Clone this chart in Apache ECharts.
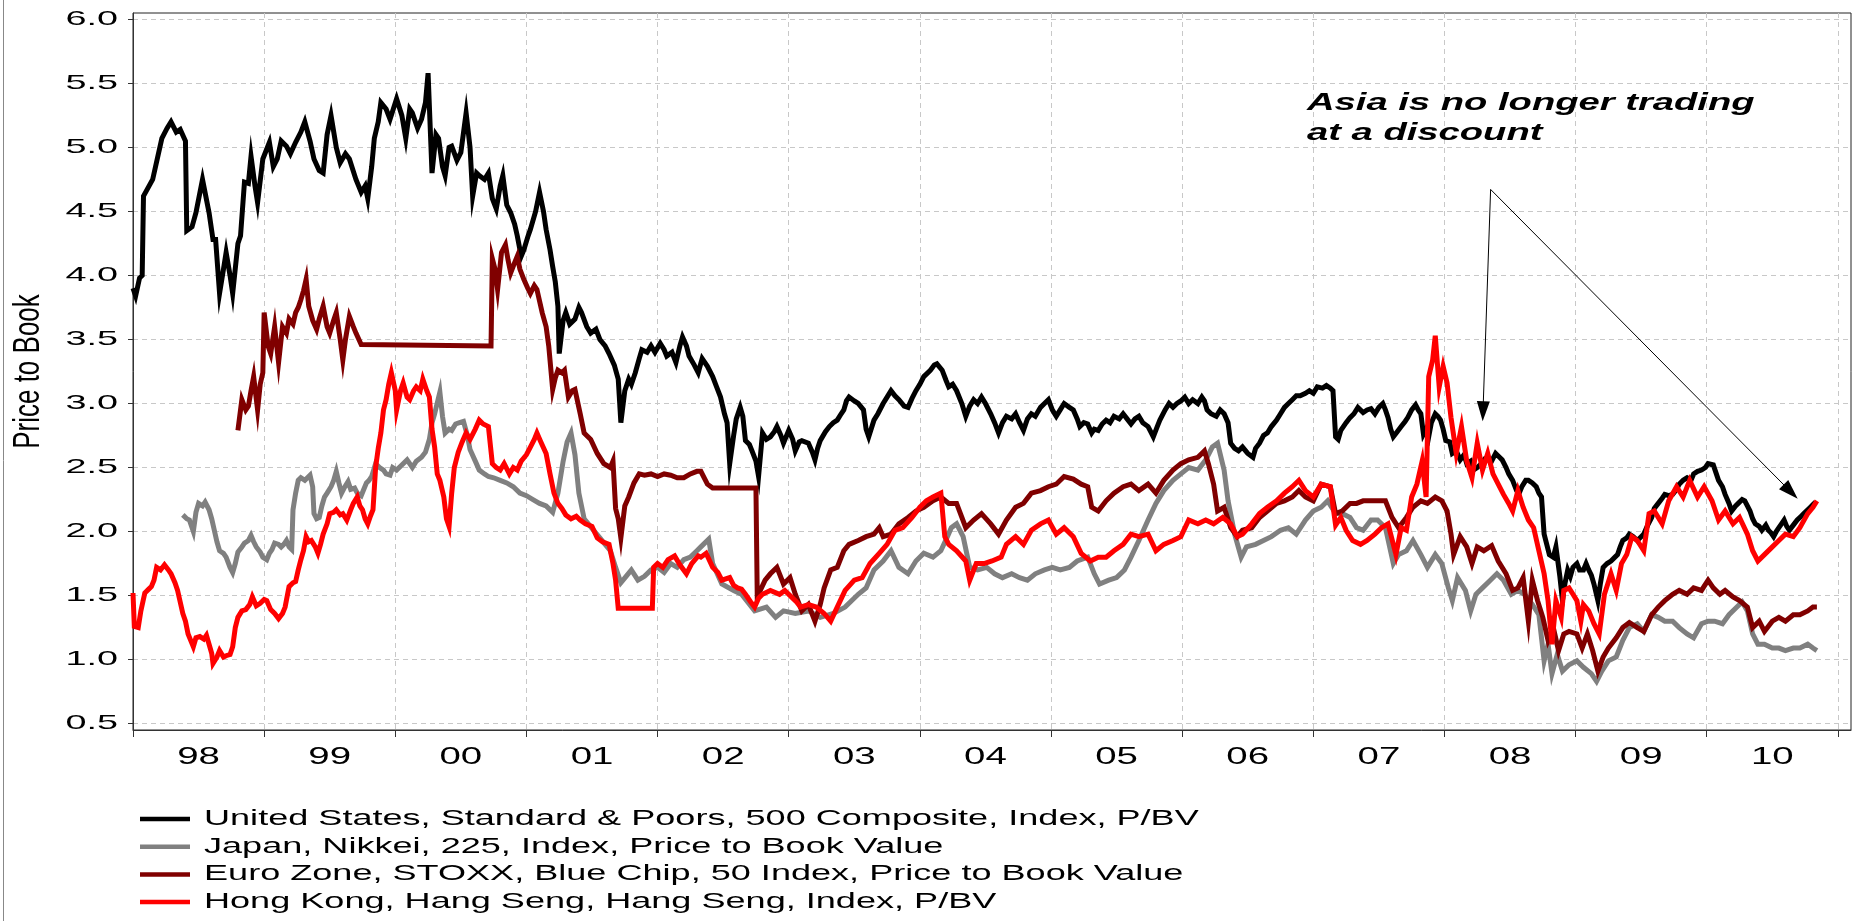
<!DOCTYPE html>
<html><head><meta charset="utf-8">
<script src="https://cdn.jsdelivr.net/npm/echarts@6/dist/echarts.min.js"></script>
<style>html,body{margin:0;padding:0;background:#fff}#c{width:1857px;height:921px}</style>
</head><body><div id="c"></div>
<script>
// ---------------- DATA ----------------
const seriesNames = [
  'United States, Standard & Poors, 500 Composite, Index, P/BV',
  'Japan, Nikkei, 225, Index, Price to Book Value',
  'Euro Zone, STOXX, Blue Chip, 50 Index, Price to Book Value',
  'Hong Kong, Hang Seng, Hang Seng, Index, P/BV'
];
const seriesColors = ['#000000', '#808080', '#800000', '#ff0000'];

const usT = [1998.00,1998.02,1998.05,1998.07,1998.08,1998.15,1998.22,1998.26,1998.29,1998.33,1998.36,1998.40,1998.41,1998.45,1998.48,1998.53,1998.58,1998.61,1998.63,1998.66,1998.69,1998.71,1998.74,1998.76,1998.80,1998.82,1998.85,1998.88,1998.90,1998.93,1998.95,1998.99,
1999.04,1999.07,1999.10,1999.13,1999.17,1999.20,1999.24,1999.28,1999.31,1999.35,1999.38,1999.42,1999.45,1999.48,1999.51,1999.55,1999.58,1999.62,1999.65,1999.70,1999.74,1999.77,1999.79,1999.82,1999.84,1999.87,1999.89,1999.93,1999.96,
2000.01,2000.05,2000.08,2000.11,2000.13,2000.17,2000.20,2000.23,2000.25,2000.28,2000.31,2000.33,2000.36,2000.38,2000.41,2000.43,2000.47,2000.50,2000.54,2000.57,2000.59,2000.62,2000.64,2000.68,2000.71,2000.74,2000.77,2000.80,2000.82,2000.85,2000.88,2000.91,2000.93,2000.96,2000.98,
2001.01,2001.03,2001.07,2001.10,2001.13,2001.15,2001.18,2001.20,2001.22,2001.24,2001.25,2001.28,2001.30,2001.33,2001.37,2001.40,2001.42,2001.46,2001.49,2001.53,2001.56,2001.60,2001.63,2001.67,2001.70,2001.72,2001.75,2001.78,2001.80,2001.83,2001.86,2001.88,2001.92,2001.95,2001.98,
2002.02,2002.05,2002.07,2002.11,2002.14,2002.17,2002.19,2002.22,2002.24,2002.28,2002.31,2002.34,2002.38,2002.42,2002.45,2002.48,2002.51,2002.53,2002.55,2002.58,2002.60,2002.63,2002.65,2002.67,2002.70,2002.72,2002.75,2002.77,2002.80,2002.83,2002.86,2002.89,2002.91,2002.94,2002.96,
2003.00,2003.03,2003.05,2003.08,2003.10,2003.15,2003.18,2003.20,2003.22,2003.24,2003.28,2003.31,2003.34,2003.37,2003.40,2003.42,2003.44,2003.46,2003.50,2003.53,2003.57,2003.59,2003.61,2003.65,2003.68,2003.72,2003.75,2003.78,2003.81,2003.84,2003.88,2003.91,2003.94,2003.97,
2004.00,2004.03,2004.08,2004.11,2004.13,2004.17,2004.20,2004.22,2004.25,2004.28,2004.32,2004.35,2004.38,2004.41,2004.44,2004.47,2004.50,2004.54,2004.57,2004.60,2004.63,2004.66,2004.70,2004.73,2004.76,2004.79,2004.82,2004.85,2004.88,2004.92,2004.95,2004.98,
2005.01,2005.04,2005.07,2005.10,2005.14,2005.17,2005.20,2005.22,2005.25,2005.28,2005.31,2005.33,2005.36,2005.39,2005.42,2005.45,2005.48,2005.52,2005.55,2005.58,2005.61,2005.64,2005.67,2005.70,2005.74,2005.76,2005.78,2005.81,2005.83,2005.87,2005.90,2005.93,2005.96,2005.99,
2006.02,2006.05,2006.08,2006.12,2006.15,2006.17,2006.19,2006.22,2006.26,2006.29,2006.32,2006.35,2006.37,2006.40,2006.43,2006.46,2006.50,2006.54,2006.56,2006.59,2006.62,2006.65,2006.68,2006.72,2006.75,2006.78,2006.81,2006.84,2006.87,2006.90,2006.94,2006.97,
2007.00,2007.03,2007.07,2007.10,2007.13,2007.15,2007.17,2007.19,2007.21,2007.25,2007.28,2007.31,2007.34,2007.38,2007.41,2007.44,2007.47,2007.50,2007.53,2007.55,2007.57,2007.59,2007.61,2007.64,2007.67,2007.70,2007.72,2007.75,2007.78,2007.80,2007.82,2007.84,2007.86,2007.88,2007.90,2007.93,2007.95,2007.97,2007.99,
2008.01,2008.04,2008.06,2008.09,2008.12,2008.15,2008.17,2008.20,2008.22,2008.25,2008.28,2008.31,2008.33,2008.36,2008.39,2008.42,2008.44,2008.47,2008.49,2008.52,2008.55,2008.57,2008.59,2008.62,2008.64,2008.67,2008.70,2008.72,2008.74,2008.76,2008.78,2008.80,2008.83,2008.85,2008.88,2008.90,2008.92,2008.94,2008.96,2008.98,
2009.01,2009.03,2009.06,2009.08,2009.10,2009.12,2009.14,2009.17,2009.19,2009.21,2009.24,2009.27,2009.30,2009.32,2009.34,2009.36,2009.39,2009.41,2009.44,2009.47,2009.50,2009.52,2009.55,2009.58,2009.60,2009.63,2009.66,2009.68,2009.71,2009.74,2009.77,2009.79,2009.82,2009.85,2009.88,2009.90,2009.93,2009.96,2009.99,
2010.01,2010.05,2010.07,2010.09,2010.12,2010.14,2010.17,2010.19,2010.22,2010.24,2010.27,2010.29,2010.31,2010.33,2010.35,2010.37,2010.40,2010.42,2010.45,2010.47,2010.49,2010.51,2010.53,2010.55,2010.57,2010.59,2010.61,2010.63,2010.66,2010.69,2010.72,2010.74,2010.77,2010.79,2010.81,2010.83];
const usV = [3.90,3.84,3.98,4.00,4.62,4.75,5.07,5.15,5.20,5.12,5.14,5.05,4.35,4.38,4.49,4.75,4.49,4.28,4.28,3.86,4.05,4.18,4.00,3.86,4.25,4.31,4.73,4.72,4.93,4.70,4.57,4.91,
5.04,4.85,4.91,5.05,5.01,4.95,5.04,5.12,5.20,5.05,4.91,4.82,4.80,5.10,5.25,5.00,4.88,4.95,4.91,4.75,4.65,4.70,4.60,4.85,5.07,5.20,5.35,5.30,5.22,
5.38,5.25,5.07,5.30,5.27,5.15,5.22,5.35,5.58,4.80,5.10,5.07,4.85,4.78,5.00,5.01,4.90,4.96,5.27,5.00,4.62,4.80,4.78,4.75,4.80,4.60,4.52,4.70,4.78,4.55,4.49,4.40,4.31,4.15,4.20,
4.30,4.36,4.50,4.65,4.50,4.36,4.20,4.07,3.95,3.76,3.39,3.65,3.71,3.62,3.66,3.75,3.71,3.60,3.55,3.58,3.50,3.45,3.39,3.30,3.19,2.85,3.10,3.19,3.15,3.24,3.35,3.42,3.40,3.45,3.40,
3.47,3.42,3.37,3.40,3.32,3.45,3.52,3.45,3.37,3.30,3.24,3.35,3.29,3.21,3.13,3.05,2.92,2.85,2.53,2.75,2.88,2.97,2.90,2.71,2.68,2.63,2.55,2.43,2.77,2.72,2.74,2.78,2.82,2.75,2.69,
2.79,2.72,2.63,2.70,2.71,2.69,2.62,2.56,2.65,2.71,2.78,2.82,2.85,2.87,2.92,2.95,3.02,3.05,3.02,3.00,2.95,2.80,2.74,2.87,2.92,3.00,3.05,3.10,3.06,3.03,2.98,2.97,3.04,3.10,
3.15,3.21,3.26,3.30,3.31,3.26,3.18,3.13,3.15,3.10,3.00,2.90,2.98,3.03,3.00,3.05,3.00,2.92,2.85,2.77,2.85,2.90,2.88,2.92,2.85,2.79,2.88,2.92,2.90,2.97,3.00,3.03,
2.95,2.90,2.95,3.00,2.97,2.95,2.88,2.82,2.85,2.84,2.77,2.80,2.79,2.84,2.87,2.85,2.90,2.88,2.92,2.88,2.84,2.88,2.90,2.85,2.82,2.78,2.74,2.82,2.87,2.95,3.00,2.97,3.00,3.02,
3.05,3.00,3.03,3.00,3.05,3.02,2.95,2.92,2.90,2.95,2.92,2.85,2.69,2.65,2.63,2.66,2.61,2.58,2.65,2.69,2.75,2.77,2.82,2.87,2.92,2.97,3.00,3.03,3.06,3.06,3.08,3.10,
3.08,3.13,3.12,3.14,3.12,3.10,2.74,2.72,2.79,2.85,2.89,2.92,2.97,2.93,2.95,2.96,2.92,2.97,3.00,2.95,2.89,2.80,2.74,2.78,2.82,2.86,2.89,2.95,2.99,2.95,2.92,2.76,2.80,2.74,2.85,2.92,2.90,2.87,2.80,
2.71,2.70,2.61,2.63,2.56,2.60,2.53,2.55,2.48,2.50,2.53,2.57,2.58,2.55,2.61,2.58,2.56,2.50,2.45,2.40,2.32,2.30,2.35,2.40,2.40,2.38,2.35,2.30,2.27,1.98,1.90,1.82,1.80,1.88,1.65,1.46,1.60,1.70,1.65,1.72,
1.75,1.70,1.70,1.75,1.70,1.66,1.59,1.46,1.60,1.72,1.75,1.77,1.80,1.82,1.88,1.93,1.95,1.98,1.96,1.93,1.96,1.98,2.05,2.11,2.18,2.22,2.26,2.29,2.28,2.29,2.33,2.37,2.40,2.42,2.40,2.45,2.47,2.48,2.50,
2.53,2.52,2.46,2.40,2.35,2.29,2.22,2.16,2.20,2.22,2.25,2.24,2.20,2.16,2.10,2.06,2.04,2.01,2.05,2.01,1.99,1.96,2.00,2.03,2.06,2.09,2.04,2.01,2.05,2.09,2.12,2.14,2.17,2.19,2.21,2.23];

const jpT = [1998.38,1998.41,1998.43,1998.46,1998.48,1998.50,1998.53,1998.55,1998.58,1998.60,1998.62,1998.64,1998.66,1998.69,1998.71,1998.74,1998.76,1998.78,1998.80,1998.83,1998.85,1998.88,1998.90,1998.92,1998.94,1998.97,1998.99,
1999.02,1999.04,1999.06,1999.08,1999.11,1999.13,1999.15,1999.17,1999.19,1999.21,1999.22,1999.24,1999.26,1999.28,1999.31,1999.33,1999.35,1999.37,1999.38,1999.40,1999.42,1999.44,1999.46,1999.48,1999.51,1999.53,1999.55,1999.57,1999.59,1999.61,1999.64,1999.66,1999.69,1999.71,1999.74,1999.76,1999.78,1999.80,1999.82,1999.85,1999.88,1999.91,1999.93,1999.96,1999.98,
2000.01,2000.05,2000.09,2000.13,2000.16,2000.20,2000.23,2000.26,2000.28,2000.30,2000.34,2000.36,2000.38,2000.41,2000.43,2000.46,2000.49,2000.52,2000.55,2000.57,2000.61,2000.64,2000.68,2000.71,2000.75,2000.80,2000.85,2000.90,2000.95,
2001.00,2001.05,2001.10,2001.15,2001.20,2001.24,2001.28,2001.31,2001.34,2001.37,2001.40,2001.44,2001.48,2001.52,2001.56,2001.60,2001.64,2001.68,2001.72,2001.76,2001.80,2001.85,2001.90,2001.95,
2002.00,2002.05,2002.10,2002.15,2002.20,2002.25,2002.30,2002.33,2002.39,2002.42,2002.49,2002.58,2002.64,2002.74,2002.83,2002.90,2002.96,
2003.05,2003.15,2003.24,2003.34,2003.43,2003.53,2003.59,2003.65,2003.72,2003.78,2003.84,2003.91,2003.97,
2004.03,2004.10,2004.16,2004.21,2004.24,2004.28,2004.33,2004.38,2004.44,2004.51,2004.57,2004.63,2004.70,2004.76,2004.82,2004.88,2004.95,
2005.01,2005.07,2005.14,2005.20,2005.28,2005.33,2005.37,2005.44,2005.50,2005.56,2005.61,2005.67,2005.74,2005.80,2005.86,2005.93,2005.99,
2006.05,2006.12,2006.18,2006.23,2006.27,2006.32,2006.35,2006.40,2006.45,2006.49,2006.56,2006.62,2006.68,2006.75,2006.81,2006.87,2006.94,
2007.00,2007.06,2007.11,2007.17,2007.22,2007.28,2007.33,2007.38,2007.44,2007.49,2007.55,2007.61,2007.65,2007.71,2007.76,2007.82,2007.87,2007.93,2007.98,
2008.03,2008.06,2008.10,2008.16,2008.20,2008.24,2008.29,2008.35,2008.40,2008.45,2008.51,2008.56,2008.61,2008.67,2008.72,2008.76,2008.79,2008.82,2008.86,2008.90,2008.95,
2009.01,2009.06,2009.12,2009.16,2009.20,2009.25,2009.31,2009.36,2009.41,2009.47,2009.52,2009.58,2009.63,2009.68,2009.74,2009.79,2009.85,2009.90,2009.96,
2010.01,2010.06,2010.12,2010.17,2010.23,2010.27,2010.31,2010.35,2010.39,2010.44,2010.50,2010.55,2010.60,2010.66,2010.71,2010.77,2010.81,2010.84];
const jpV = [2.13,2.10,2.09,2.00,2.15,2.22,2.20,2.23,2.17,2.10,2.01,1.92,1.85,1.83,1.80,1.72,1.68,1.75,1.84,1.88,1.91,1.93,1.97,1.92,1.88,1.84,1.80,
1.78,1.83,1.86,1.91,1.90,1.88,1.90,1.93,1.88,1.86,2.17,2.30,2.40,2.42,2.40,2.42,2.44,2.35,2.14,2.10,2.11,2.20,2.27,2.30,2.35,2.40,2.47,2.38,2.30,2.34,2.39,2.33,2.34,2.30,2.28,2.33,2.38,2.40,2.43,2.53,2.50,2.48,2.45,2.44,2.50,
2.48,2.52,2.56,2.50,2.55,2.58,2.62,2.72,2.85,2.92,3.09,2.90,2.77,2.80,2.79,2.84,2.85,2.86,2.75,2.64,2.55,2.48,2.45,2.43,2.42,2.40,2.38,2.35,2.30,
2.28,2.25,2.22,2.20,2.15,2.30,2.55,2.70,2.77,2.60,2.30,2.10,2.05,2.00,1.95,1.90,1.85,1.72,1.60,1.65,1.70,1.62,1.65,1.70,
1.72,1.68,1.75,1.72,1.78,1.80,1.85,1.88,1.94,1.75,1.59,1.54,1.51,1.38,1.41,1.33,1.38,
1.36,1.38,1.33,1.36,1.41,1.51,1.56,1.70,1.77,1.85,1.72,1.67,1.77,
1.83,1.80,1.85,1.96,2.03,2.06,1.96,1.72,1.70,1.72,1.67,1.64,1.67,1.64,1.62,1.67,1.70,
1.72,1.70,1.72,1.77,1.80,1.67,1.59,1.62,1.64,1.70,1.80,1.93,2.09,2.22,2.32,2.40,2.45,
2.50,2.48,2.56,2.66,2.69,2.48,2.24,1.98,1.80,1.88,1.90,1.93,1.96,2.01,2.03,1.98,2.09,
2.16,2.19,2.24,2.14,2.14,2.11,2.03,2.01,2.09,2.09,2.03,1.75,1.82,1.85,1.93,1.82,1.72,1.82,1.75,
1.56,1.46,1.64,1.54,1.38,1.51,1.56,1.62,1.67,1.62,1.51,1.54,1.51,1.43,1.35,0.99,1.12,0.89,1.04,0.91,0.96,
0.99,0.94,0.89,0.83,0.91,0.99,1.02,1.15,1.25,1.28,1.22,1.35,1.33,1.30,1.30,1.25,1.20,1.17,1.28,
1.30,1.30,1.28,1.35,1.41,1.45,1.38,1.20,1.12,1.12,1.09,1.09,1.07,1.09,1.09,1.12,1.09,1.07];

const euT = [1998.80,1998.83,1998.86,1998.88,1998.90,1998.92,1998.95,1998.97,1998.99,
1999.00,1999.03,1999.05,1999.08,1999.11,1999.14,1999.17,1999.19,1999.22,1999.24,1999.26,1999.28,1999.30,1999.32,1999.34,1999.37,1999.40,1999.42,1999.45,1999.48,1999.50,1999.53,1999.55,1999.58,1999.60,1999.62,1999.65,1999.68,1999.70,1999.74,1999.75,
2000.73,2000.74,2000.76,2000.78,2000.81,2000.84,2000.86,2000.88,2000.91,2000.93,2000.95,2000.98,
2001.01,2001.03,2001.06,2001.08,2001.12,2001.15,2001.17,2001.20,2001.22,2001.24,2001.27,2001.29,2001.32,2001.35,2001.37,2001.41,2001.44,2001.49,2001.54,2001.59,2001.64,2001.66,2001.68,2001.70,2001.72,2001.75,2001.78,2001.82,2001.86,2001.90,2001.95,
2002.00,2002.05,2002.10,2002.15,2002.20,2002.25,2002.30,2002.33,2002.38,2002.42,2002.75,2002.76,2002.82,2002.86,2002.91,2002.96,
2003.01,2003.05,2003.10,2003.15,2003.20,2003.24,2003.27,2003.32,2003.37,2003.42,2003.46,2003.53,2003.59,2003.65,2003.69,2003.72,2003.78,2003.84,2003.91,2003.97,
2004.03,2004.10,2004.16,2004.22,2004.28,2004.35,2004.41,2004.47,2004.54,2004.60,2004.66,2004.73,2004.79,2004.85,2004.92,2004.98,
2005.04,2005.10,2005.17,2005.23,2005.28,2005.31,2005.36,2005.42,2005.48,2005.55,2005.61,2005.67,2005.74,2005.80,2005.86,2005.93,2005.99,
2006.05,2006.12,2006.17,2006.20,2006.24,2006.27,2006.32,2006.37,2006.42,2006.46,2006.53,2006.59,2006.65,2006.72,2006.78,2006.84,2006.89,2006.94,
2007.00,2007.06,2007.13,2007.17,2007.22,2007.28,2007.33,2007.38,2007.44,2007.49,2007.55,2007.60,2007.65,2007.71,2007.76,2007.82,2007.87,2007.93,2007.98,
2008.02,2008.05,2008.07,2008.12,2008.17,2008.21,2008.25,2008.30,2008.36,2008.41,2008.47,2008.52,2008.56,2008.60,2008.64,2008.67,2008.71,2008.75,2008.79,2008.83,2008.87,2008.91,2008.95,
2009.01,2009.05,2009.09,2009.13,2009.17,2009.21,2009.25,2009.31,2009.36,2009.41,2009.47,2009.52,2009.58,2009.63,2009.68,2009.74,2009.79,2009.85,2009.90,2009.96,
2010.01,2010.05,2010.10,2010.14,2010.20,2010.25,2010.31,2010.35,2010.40,2010.44,2010.50,2010.55,2010.60,2010.66,2010.71,2010.77,2010.81,2010.84];
const euV = [2.79,3.03,2.95,2.98,3.10,3.21,2.95,3.15,3.24,
3.71,3.45,3.39,3.60,3.32,3.60,3.55,3.66,3.62,3.71,3.75,3.81,3.88,3.97,3.76,3.65,3.58,3.66,3.76,3.60,3.55,3.65,3.71,3.50,3.34,3.50,3.68,3.60,3.55,3.46,3.45,
3.45,4.13,4.05,3.89,4.18,4.24,4.12,4.02,4.10,4.15,4.05,3.97,
3.90,3.86,3.92,3.89,3.71,3.60,3.45,3.11,3.20,3.26,3.24,3.26,3.05,3.10,3.11,2.92,2.77,2.72,2.61,2.53,2.50,2.55,2.18,2.10,1.95,2.20,2.27,2.38,2.45,2.44,2.45,
2.43,2.45,2.44,2.42,2.42,2.45,2.47,2.47,2.37,2.34,2.34,1.49,1.62,1.67,1.72,1.59,
1.64,1.51,1.38,1.43,1.30,1.43,1.56,1.70,1.72,1.85,1.90,1.93,1.96,1.98,2.03,1.96,1.98,2.06,2.11,2.16,
2.19,2.24,2.27,2.22,2.22,2.03,2.09,2.14,2.06,1.98,2.09,2.19,2.22,2.30,2.32,2.35,
2.37,2.43,2.41,2.37,2.35,2.19,2.16,2.24,2.30,2.35,2.37,2.32,2.37,2.30,2.40,2.48,2.53,
2.56,2.58,2.63,2.53,2.37,2.16,2.19,2.03,1.96,2.01,2.03,2.11,2.16,2.22,2.24,2.27,2.32,2.27,
2.24,2.37,2.35,2.14,2.16,2.22,2.22,2.24,2.24,2.24,2.24,2.11,2.03,2.11,2.19,2.24,2.22,2.27,2.24,
2.16,1.98,1.82,1.96,1.88,1.75,1.88,1.85,1.89,1.77,1.67,1.54,1.56,1.64,1.30,1.62,1.46,1.33,1.15,1.25,1.07,1.20,1.22,
1.20,1.09,1.20,1.07,0.91,1.02,1.09,1.17,1.25,1.29,1.25,1.22,1.35,1.41,1.46,1.51,1.54,1.51,1.56,1.54,
1.62,1.56,1.51,1.54,1.49,1.46,1.41,1.25,1.30,1.22,1.30,1.33,1.30,1.35,1.35,1.38,1.41,1.41];

const hkT = [1998.00,1998.01,1998.04,1998.06,1998.09,1998.12,1998.14,1998.16,1998.18,1998.21,1998.24,1998.27,1998.29,1998.32,1998.34,1998.36,1998.38,1998.40,1998.42,1998.44,1998.46,1998.48,1998.51,1998.54,1998.56,1998.58,1998.60,1998.61,1998.64,1998.66,1998.69,1998.71,1998.74,1998.76,1998.78,1998.80,1998.83,1998.86,1998.89,1998.91,1998.94,1998.97,
1999.00,1999.02,1999.05,1999.08,1999.11,1999.14,1999.16,1999.19,1999.22,1999.24,1999.26,1999.28,1999.30,1999.32,1999.34,1999.36,1999.39,1999.41,1999.43,1999.45,1999.48,1999.50,1999.53,1999.55,1999.58,1999.60,1999.63,1999.66,1999.68,1999.71,1999.73,1999.75,1999.77,1999.79,1999.81,1999.83,1999.85,1999.87,1999.89,1999.91,1999.93,1999.95,1999.97,
2000.00,2000.01,2000.04,2000.06,2000.09,2000.11,2000.14,2000.16,2000.19,2000.21,2000.24,2000.26,2000.28,2000.30,2000.32,2000.34,2000.37,2000.39,2000.41,2000.43,2000.45,2000.48,2000.51,2000.54,2000.57,2000.61,2000.64,2000.67,2000.71,2000.74,2000.77,2000.80,2000.83,2000.87,2000.90,2000.93,2000.96,
2001.00,2001.03,2001.06,2001.08,2001.11,2001.15,2001.18,2001.21,2001.24,2001.27,2001.30,2001.34,2001.38,2001.41,2001.45,2001.50,2001.54,2001.58,2001.63,2001.66,2001.68,2001.70,2001.96,2001.97,
2002.00,2002.04,2002.08,2002.13,2002.17,2002.22,2002.26,2002.31,2002.33,2002.37,2002.42,2002.46,2002.49,2002.55,2002.58,2002.61,2002.64,2002.67,2002.71,2002.74,2002.77,2002.80,2002.86,2002.93,2002.97,
2003.02,2003.06,2003.09,2003.15,2003.21,2003.27,2003.32,2003.37,2003.43,2003.50,2003.56,2003.62,2003.69,2003.75,2003.81,2003.87,2003.94,
2004.00,2004.05,2004.10,2004.16,2004.19,2004.22,2004.28,2004.35,2004.38,2004.43,2004.49,2004.55,2004.62,2004.66,2004.73,2004.79,2004.85,2004.92,2004.98,
2005.04,2005.10,2005.17,2005.23,2005.30,2005.36,2005.42,2005.48,2005.55,2005.61,2005.67,2005.74,2005.80,2005.86,2005.93,2005.99,
2006.05,2006.12,2006.18,2006.24,2006.31,2006.37,2006.42,2006.46,2006.53,2006.59,2006.65,2006.72,2006.78,2006.84,2006.89,2006.94,
2007.00,2007.06,2007.13,2007.17,2007.21,2007.25,2007.30,2007.36,2007.41,2007.47,2007.52,2007.57,2007.63,2007.67,2007.71,2007.75,2007.79,2007.83,2007.86,2007.88,2007.91,2007.93,2007.96,2007.99,
2008.02,2008.05,2008.09,2008.13,2008.17,2008.21,2008.25,2008.29,2008.33,2008.37,2008.41,2008.45,2008.49,2008.52,2008.56,2008.60,2008.64,2008.68,2008.72,2008.76,2008.79,2008.82,2008.85,2008.89,2008.91,2008.95,2008.98,
2009.01,2009.04,2009.06,2009.10,2009.14,2009.18,2009.22,2009.27,2009.31,2009.35,2009.39,2009.43,2009.47,2009.52,2009.56,2009.60,2009.66,2009.71,2009.77,2009.82,2009.87,2009.93,2009.98,
2010.04,2010.09,2010.14,2010.20,2010.25,2010.31,2010.35,2010.39,2010.44,2010.50,2010.55,2010.60,2010.66,2010.71,2010.77,2010.81,2010.84];
const hkV = [1.52,1.26,1.25,1.38,1.52,1.55,1.57,1.62,1.72,1.70,1.74,1.70,1.67,1.60,1.54,1.45,1.36,1.30,1.20,1.15,1.10,1.17,1.18,1.16,1.19,1.12,1.05,0.97,1.02,1.07,1.02,1.03,1.04,1.10,1.25,1.33,1.38,1.39,1.43,1.49,1.42,1.44,
1.47,1.46,1.39,1.36,1.32,1.36,1.41,1.57,1.60,1.61,1.70,1.78,1.85,1.96,1.92,1.93,1.88,1.83,1.90,1.98,2.06,2.14,2.15,2.17,2.13,2.14,2.09,2.17,2.22,2.27,2.20,2.17,2.10,2.06,2.12,2.17,2.50,2.65,2.77,2.95,3.03,3.15,3.24,
3.10,2.95,3.10,3.16,3.05,3.03,3.10,3.13,3.10,3.19,3.10,3.05,2.80,2.66,2.45,2.40,2.27,2.10,2.04,2.30,2.50,2.62,2.70,2.77,2.72,2.80,2.87,2.84,2.82,2.53,2.50,2.48,2.53,2.45,2.50,2.48,2.55,
2.60,2.66,2.72,2.77,2.70,2.61,2.45,2.30,2.22,2.18,2.13,2.10,2.12,2.09,2.06,2.04,1.95,1.92,1.90,1.75,1.62,1.40,1.40,1.72,
1.75,1.72,1.78,1.81,1.74,1.67,1.75,1.81,1.80,1.83,1.72,1.68,1.62,1.64,1.58,1.56,1.55,1.51,1.45,1.41,1.48,1.51,1.54,1.51,1.54,
1.49,1.45,1.41,1.43,1.41,1.36,1.30,1.41,1.54,1.62,1.64,1.75,1.83,1.90,2.01,2.03,2.11,
2.19,2.24,2.27,2.30,1.96,1.90,1.85,1.77,1.62,1.75,1.75,1.77,1.80,1.90,1.96,1.90,2.01,2.06,2.09,
1.98,2.03,1.96,1.83,1.77,1.80,1.80,1.85,1.90,1.98,1.96,1.98,1.85,1.90,1.93,1.96,
2.09,2.06,2.09,2.06,2.11,2.06,1.96,1.98,2.06,2.14,2.19,2.24,2.30,2.35,2.40,2.32,
2.27,2.37,2.35,2.05,2.11,2.01,1.93,1.90,1.93,1.98,2.03,2.06,1.82,2.03,2.01,2.27,2.37,2.55,2.27,3.21,3.34,3.53,3.13,3.29,
3.16,2.89,2.61,2.82,2.55,2.42,2.69,2.48,2.61,2.45,2.37,2.29,2.22,2.16,2.32,2.19,2.09,2.03,1.85,1.67,1.46,1.12,1.46,1.33,1.54,1.56,1.51,
1.46,1.30,1.43,1.38,1.28,1.20,1.51,1.67,1.54,1.75,1.82,1.96,1.93,1.85,2.14,2.16,2.06,2.24,2.35,2.27,2.40,2.27,2.35,
2.24,2.09,2.16,2.06,2.11,1.98,1.85,1.77,1.82,1.88,1.93,1.98,1.96,2.03,2.14,2.19,2.24];

const yTickValues = [0.5,1.0,1.5,2.0,2.5,3.0,3.5,4.0,4.5,5.0,5.5,6.0];
const yTickLabels = ['0.5','1.0','1.5','2.0','2.5','3.0','3.5','4.0','4.5','5.0','5.5','6.0'];
const xTickValues = [1998,1999,2000,2001,2002,2003,2004,2005,2006,2007,2008,2009,2010,2011];
const xLabelYears = [1998,1999,2000,2001,2002,2003,2004,2005,2006,2007,2008,2009,2010];
const xLabelTexts = ['98','99','00','01','02','03','04','05','06','07','08','09','10'];
const yAxisName = 'Price to Book';
const noteLines = ['Asia is no longer trading', 'at a discount'];
const arrowStart = [2008.352, 4.672];
const arrowEnds = [[2008.294, 2.94], [2010.64, 2.311]];

// ---------------- CHART ----------------
function pairs(t, v) { return t.map((x, i) => [x, v[i]]); }
const allT = [usT, jpT, euT, hkT];
const allV = [usV, jpV, euV, hkV];

const chart = echarts.init(document.getElementById('c'), null, {renderer: 'canvas'});
const series = seriesNames.map((n, i) => ({
  type: 'line', name: n, data: pairs(allT[i], allV[i]),
  showSymbol: false, symbol: 'none', silent: true,
  lineStyle: {color: seriesColors[i], width: 5, join: 'miter'},
  itemStyle: {color: seriesColors[i]},
  z: 2 + i
}));
series.push({
  type: 'line', data: [], silent: true,
  markLine: {
    silent: true, animation: false,
    label: {show: false},
    lineStyle: {color: '#000', width: 1, type: 'solid'},
    emphasis: {disabled: true},
    data: arrowEnds.map(e => [
      {coord: arrowStart, symbol: 'none'},
      {coord: e, symbol: 'triangle', symbolSize: [13, 20]}
    ])
  },
  z: 10
});

const option = {
  animation: false,
  backgroundColor: '#ffffff',
  grid: {left: 133, right: 6, top: 13, bottom: 191, show: true, borderColor: '#222', borderWidth: 1, backgroundColor: 'transparent'},
  xAxis: {
    type: 'value', min: 1998, max: 2011.1,
    axisLine: {show: true, onZero: false, lineStyle: {color: '#333', width: 1}},
    axisTick: {show: true, customValues: xTickValues, length: 7, lineStyle: {color: '#333'}},
    axisLabel: {show: false},
    splitLine: {show: true, lineStyle: {color: '#c8c8c8', width: 1, type: [5, 4]}}
  },
  yAxis: {
    type: 'value', min: 0.45, max: 6.05,
    axisLine: {show: true, onZero: false, lineStyle: {color: '#333', width: 1}},
    axisTick: {show: true, customValues: yTickValues, length: 5, lineStyle: {color: '#333'}},
    axisLabel: {show: false},
    splitLine: {show: true, lineStyle: {color: '#c8c8c8', width: 1, type: [5, 4]}}
  },
  series: series
};
chart.setOption(option);

// text elements (stretched horizontally like the reference)
const FONT = '"Liberation Sans", Arial, sans-serif';
const g = [];
yTickValues.forEach((v, i) => {
  const p = chart.convertToPixel({gridIndex: 0}, [1998, v]);
  g.push({type: 'text', x: p[0] - 15, y: p[1], scaleX: 1.8,
    style: {text: yTickLabels[i], font: '21px ' + FONT, fill: '#000', align: 'right', verticalAlign: 'middle'}});
});
xLabelYears.forEach((yr, i) => {
  const p = chart.convertToPixel({gridIndex: 0}, [yr + 0.5, 0.45]);
  g.push({type: 'text', x: p[0], y: p[1] + 28, scaleX: 1.67,
    style: {text: xLabelTexts[i], font: '23px ' + FONT, fill: '#000', align: 'center', verticalAlign: 'middle'}});
});
// y axis name
const gc = chart.convertToPixel({gridIndex: 0}, [1998, 3.25]);
g.push({type: 'text', x: 29, y: gc[1], rotation: Math.PI / 2, scaleY: 1.45,
  style: {text: yAxisName, font: '26px ' + FONT, fill: '#000', align: 'center', verticalAlign: 'middle'}});
// note
noteLines.forEach((t, i) => {
  g.push({type: 'text', x: 1307, y: 104 + i * 30, scaleX: 1.66,
    style: {text: t, font: 'italic bold 23px ' + FONT, fill: '#000', align: 'left', verticalAlign: 'middle'}});
});
// legend
seriesNames.forEach((n, i) => {
  const y = 819 + i * 27.7;
  g.push({type: 'line', shape: {x1: 140, y1: y, x2: 190, y2: y}, style: {stroke: seriesColors[i], lineWidth: 4.5}});
  g.push({type: 'text', x: 204, y: y, scaleX: 1.64,
    style: {text: n, font: '22px ' + FONT, fill: '#000', align: 'left', verticalAlign: 'middle'}});
});
// outer frame line at left edge
g.push({type: 'line', shape: {x1: 3.5, y1: 0, x2: 3.5, y2: 921}, style: {stroke: '#888', lineWidth: 1}});
chart.setOption({graphic: g});
</script>
</body></html>
